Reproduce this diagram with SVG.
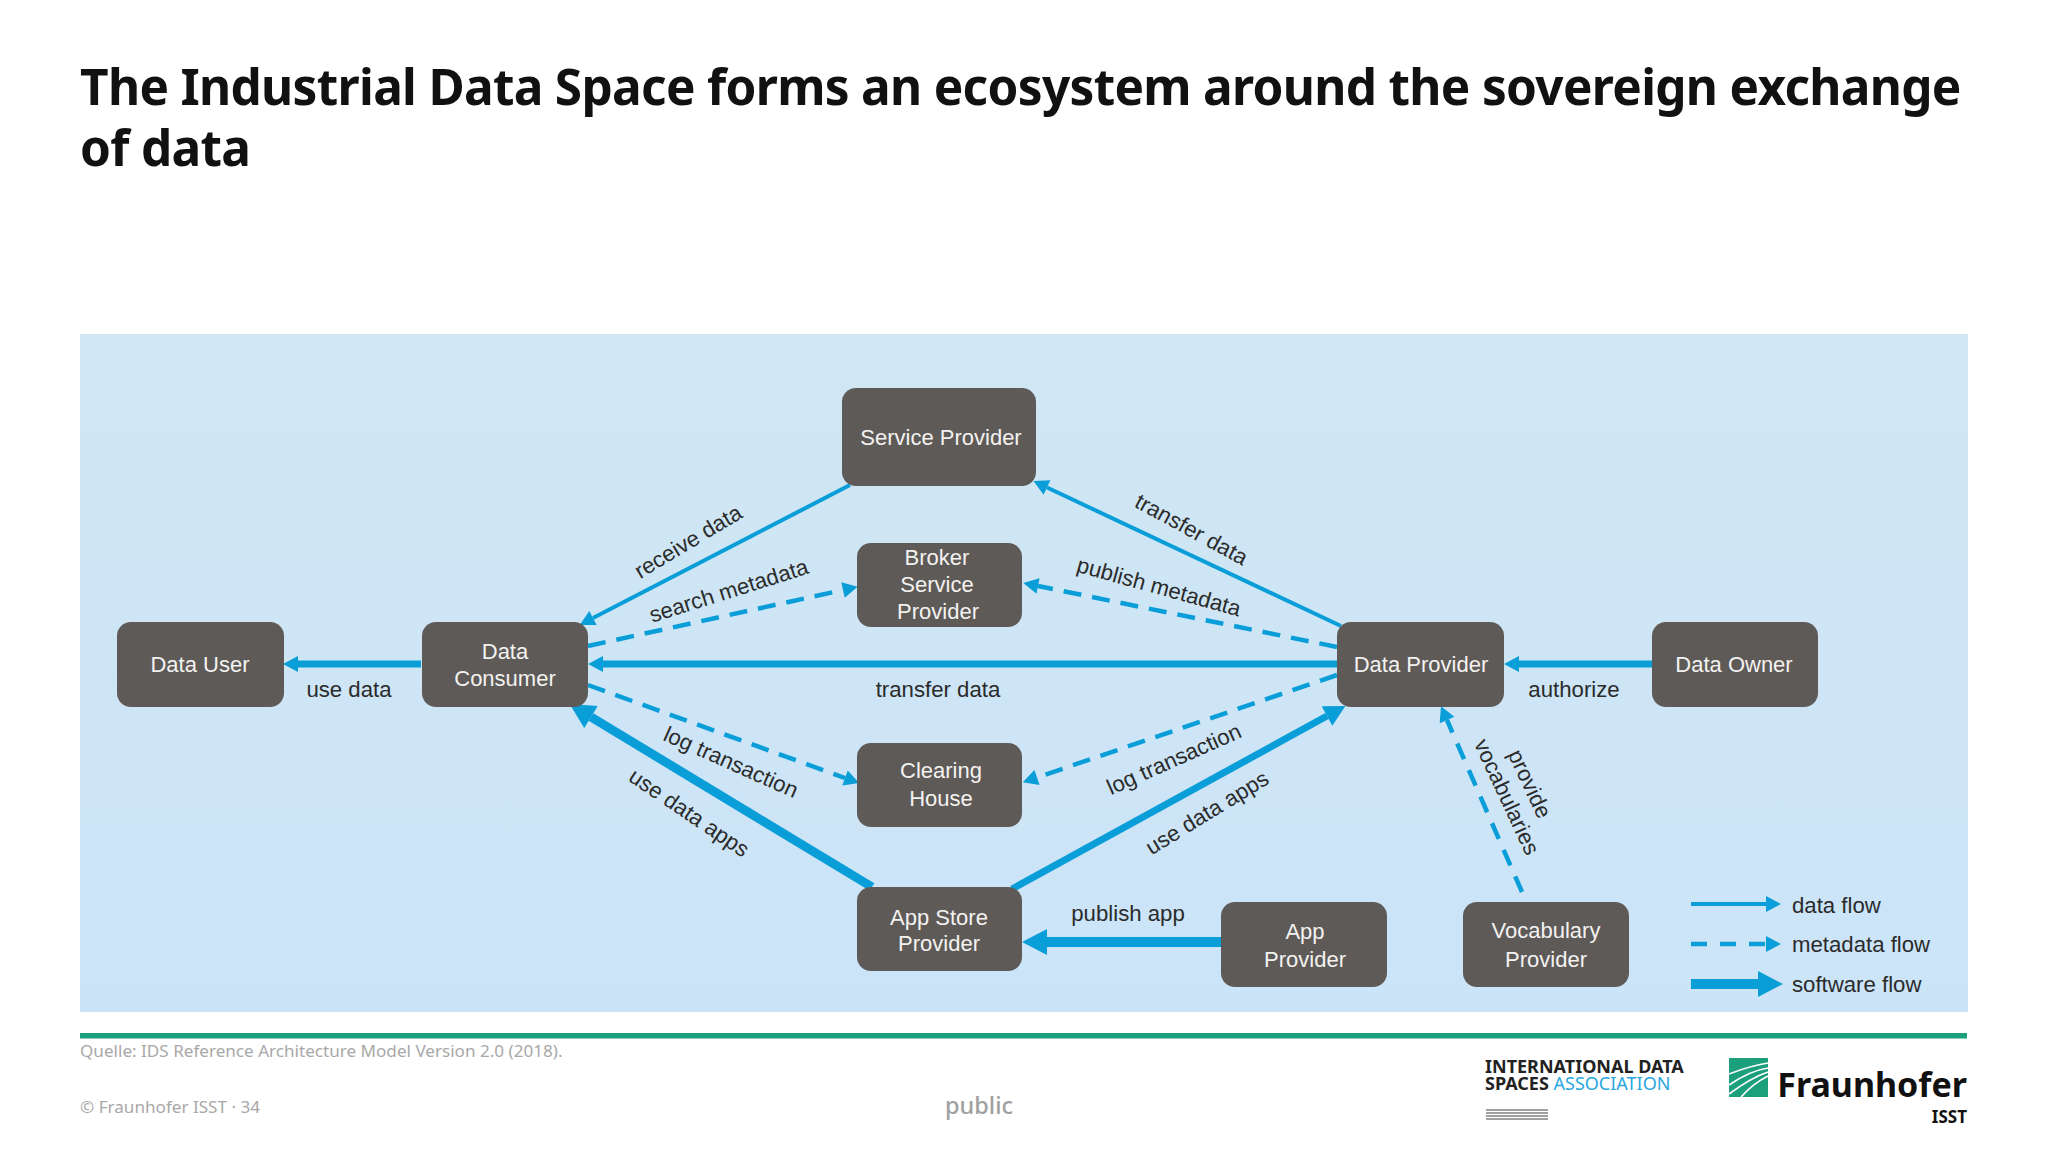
<svg xmlns="http://www.w3.org/2000/svg" width="2048" height="1152" viewBox="0 0 2048 1152">
<style>
.t{font-family:"Noto Sans","Open Sans",sans-serif}
.title{font-size:49.5px;font-weight:700;fill:#111;letter-spacing:-0.68px}
.foot{font-size:17.1px;fill:#a8a8a8}
.n{fill:#5e5a58}
.nt{font-family:"Liberation Sans",Arial,sans-serif;font-size:22px;fill:#f4f2f0;text-anchor:middle}
.l{font-family:"Liberation Sans",Arial,sans-serif;font-size:22.2px;fill:#2b2b2b;text-anchor:middle}
.lg{text-anchor:start}
.c{fill:none;stroke:#0a9ed9}
.d{stroke-width:4;marker-end:url(#hs)}
.m{stroke-width:4.5;stroke-dasharray:18 11;marker-end:url(#hs)}
.w{stroke-width:7;marker-end:url(#hs)}
.s{stroke-width:9;marker-end:url(#hb)}
</style>
<defs>
<linearGradient id="bg" x1="0" y1="0" x2="0" y2="1"><stop offset="0" stop-color="#d0e6f3"/><stop offset="1" stop-color="#cbe4f8"/></linearGradient>
<marker id="hs" markerUnits="userSpaceOnUse" markerWidth="16" markerHeight="20" refX="0" refY="10" orient="auto" overflow="visible"><path d="M0,2L15,10L0,18z" fill="#0a9ed9"/></marker>
<marker id="hm" markerUnits="userSpaceOnUse" markerWidth="22" markerHeight="24" refX="0" refY="12" orient="auto" overflow="visible"><path d="M0,1L21,12L0,23z" fill="#0a9ed9"/></marker>
<marker id="hb" markerUnits="userSpaceOnUse" markerWidth="26" markerHeight="30" refX="0" refY="15" orient="auto" overflow="visible"><path d="M0,2L25,15L0,28z" fill="#0a9ed9"/></marker>
</defs>
<rect width="2048" height="1152" fill="#fff"/>
<text class="t title" x="80" y="105">The Industrial Data Space forms an ecosystem around the sovereign exchange</text>
<text class="t title" x="80" y="166">of data</text>
<rect x="80" y="334" width="1888" height="678" fill="url(#bg)"/>
<g id="connectors">
<line class="c w" x1="421" y1="664" x2="298" y2="664"/>
<line class="c w" x1="1337" y1="664" x2="603" y2="664"/>
<line class="c w" x1="1652" y1="664" x2="1519" y2="664"/>
<line class="c d" x1="850" y1="485" x2="593" y2="618"/>
<line class="c d" x1="1341" y1="626" x2="1047" y2="487.5"/>
<line class="c m" x1="588" y1="646" x2="843" y2="590"/>
<line class="c m" x1="1337" y1="647" x2="1038" y2="586"/>
<line class="c m" x1="588" y1="685" x2="845" y2="778"/>
<line class="c m" x1="1337" y1="675" x2="1037" y2="777.5"/>
<line class="c s" x1="872" y1="887" x2="591" y2="717"/>
<line class="c" style="stroke-width:7;marker-end:url(#hm)" x1="1012" y1="889" x2="1327" y2="716"/>
<line class="c s" style="stroke-width:10" x1="1221" y1="942" x2="1047" y2="942"/>
<line class="c m" style="stroke-dasharray:17 12" x1="1522" y1="892" x2="1447" y2="720"/>
<line class="c d" x1="1691" y1="904" x2="1766" y2="904"/>
<line class="c m" style="stroke-dasharray:16 13" x1="1691" y1="944" x2="1766" y2="944"/>
<line class="c s" style="stroke-width:10" x1="1691" y1="984" x2="1758" y2="984"/>
</g>
<g id="edge-labels">
<text class="l" x="349" y="697">use data</text>
<text class="l" x="938" y="697">transfer data</text>
<text class="l" x="1574" y="697">authorize</text>
<text class="l" x="1128" y="921">publish app</text>
<text class="l" transform="translate(692,548) rotate(-31)">receive data</text>
<text class="l" transform="translate(731,598) rotate(-17.5)">search metadata</text>
<text class="l" transform="translate(1188,536) rotate(28.6)">transfer data</text>
<text class="l" transform="translate(1157,594) rotate(15.4)">publish metadata</text>
<text class="l" transform="translate(728,769) rotate(24)">log transaction</text>
<text class="l" transform="translate(685,819) rotate(34)">use data apps</text>
<text class="l" transform="translate(1177,766) rotate(-24)">log transaction</text>
<text class="l" transform="translate(1211,819) rotate(-31.5)">use data apps</text>
<text class="l" transform="translate(1523,787) rotate(65)">provide</text>
<text class="l" transform="translate(1500,800) rotate(65)">vocabularies</text>
<text class="l lg" x="1792" y="913">data flow</text>
<text class="l lg" x="1792" y="952">metadata flow</text>
<text class="l lg" x="1792" y="992">software flow</text>
</g>
<g id="data-user"><rect class="n" x="117" y="622" width="167" height="85" rx="14"/><text class="nt" x="200" y="672">Data User</text></g>
<g id="data-consumer"><rect class="n" x="422" y="622" width="166" height="85" rx="14"/><text class="nt" x="505" y="659">Data</text><text class="nt" x="505" y="686">Consumer</text></g>
<g id="service-provider"><rect class="n" x="842" y="388" width="194" height="98" rx="14"/><text class="nt" x="941" y="445">Service Provider</text></g>
<g id="broker"><rect class="n" x="857" y="543" width="165" height="84" rx="14"/><text class="nt" x="937" y="565">Broker</text><text class="nt" x="937" y="592">Service</text><text class="nt" x="938" y="619">Provider</text></g>
<g id="data-provider"><rect class="n" x="1337" y="622" width="167" height="85" rx="14"/><text class="nt" x="1421" y="672">Data Provider</text></g>
<g id="data-owner"><rect class="n" x="1652" y="622" width="166" height="85" rx="14"/><text class="nt" x="1734" y="672">Data Owner</text></g>
<g id="clearing-house"><rect class="n" x="857" y="743" width="165" height="84" rx="14"/><text class="nt" x="941" y="778">Clearing</text><text class="nt" x="941" y="806">House</text></g>
<g id="app-store"><rect class="n" x="857" y="887" width="165" height="84" rx="14"/><text class="nt" x="939" y="925">App Store</text><text class="nt" x="939" y="951">Provider</text></g>
<g id="app-provider"><rect class="n" x="1221" y="902" width="166" height="85" rx="14"/><text class="nt" x="1305" y="939">App</text><text class="nt" x="1305" y="967">Provider</text></g>
<g id="vocabulary"><rect class="n" x="1463" y="902" width="166" height="85" rx="14"/><text class="nt" x="1546" y="938">Vocabulary</text><text class="nt" x="1546" y="967">Provider</text></g>
<rect x="80" y="1033" width="1887" height="5.5" fill="#1c9f7b"/>
<text class="t foot" x="80" y="1057">Quelle: IDS Reference Architecture Model Version 2.0 (2018).</text>
<text class="t foot" x="80" y="1113">© Fraunhofer ISST · 34</text>
<text class="t" x="945" y="1114" style="font-size:23.5px;font-weight:500;fill:#a0a0a0">public</text>
<g id="ids-logo">
<text class="t" x="1485" y="1073" style="font-size:18px;font-weight:700;fill:#222">INTERNATIONAL DATA</text>
<text class="t" x="1485" y="1090" style="font-size:18px;font-weight:700;fill:#222">SPACES <tspan style="font-weight:400;fill:#29a8e0">ASSOCIATION</tspan></text>
<path d="M1486,1110H1548M1486,1113H1548M1486,1116H1548M1486,1119H1548" stroke="#a0a0a0" stroke-width="2" fill="none"/>
</g>
<g id="fraunhofer-logo">
<rect x="1729" y="1058" width="39" height="39" fill="#1c9f7b"/>
<path d="M1729,1074C1742,1069 1755,1065 1768,1063M1729,1085C1742,1076 1755,1070 1768,1068M1729,1094C1744,1083 1756,1076 1768,1072M1741,1097C1749,1088 1758,1081 1768,1076" stroke="#fff" stroke-width="1.6" fill="none"/>
<text class="t" x="1967" y="1097" text-anchor="end" style="font-size:34px;font-weight:700;fill:#111">Fraunhofer</text>
<text class="t" x="1967" y="1123" text-anchor="end" style="font-size:17px;font-weight:700;fill:#111">ISST</text>
</g>
</svg>
